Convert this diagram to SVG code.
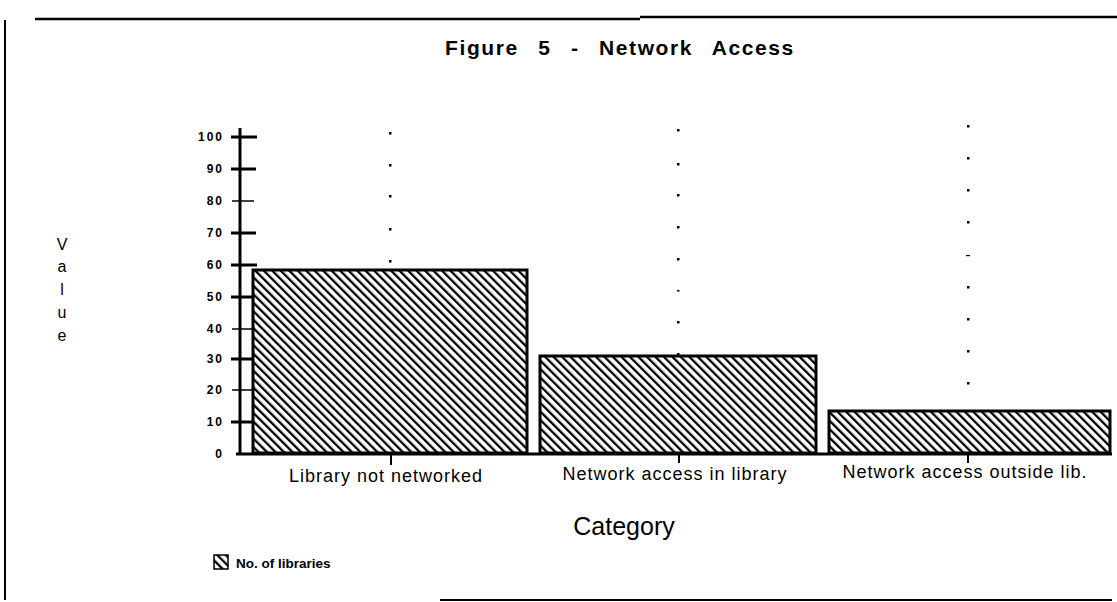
<svg xmlns="http://www.w3.org/2000/svg" width="1117" height="602" viewBox="0 0 1117 602">
<defs>
<pattern id="hatch" patternUnits="userSpaceOnUse" width="6" height="6" patternTransform="rotate(-45)">
<rect width="6" height="6" fill="#fff"/>
<rect x="0" y="0" width="2.3" height="6" fill="#000"/>
</pattern>
</defs>
<style>
.t{font-family:"Liberation Sans",Arial,sans-serif;fill:#000}
.tick{font-size:12px;font-weight:bold;text-anchor:end;letter-spacing:2px}
.cat{font-size:18px;text-anchor:middle;letter-spacing:1px}
.bar{fill:url(#hatch);stroke:#000;stroke-width:3}
.ax{stroke:#000;fill:none}
.dot{fill:#000}
</style>
<rect width="1117" height="602" fill="#fff"/>
<g id="frame" class="ax">
<path d="M35 19 H640 M640 17 H1117" stroke-width="2.5"/>
<path d="M5 20 V600" stroke-width="2"/>
<path d="M440 600 H1112" stroke-width="2"/>
</g>
<text id="title" class="t" x="620" y="55" font-size="21" font-weight="bold" text-anchor="middle" letter-spacing="1.6" word-spacing="12">Figure 5 - Network Access</text>
<g id="ylabel" class="t" font-size="16" text-anchor="middle">
<text x="62" y="250">V</text>
<text x="62" y="272">a</text>
<text x="62" y="295">l</text>
<text x="62" y="318">u</text>
<text x="62" y="341">e</text>
</g>
<g id="yaxis">
<path class="ax" d="M240 128 V455" stroke-width="3"/>
<path class="ax" stroke-width="3" d="M231 137 H257 M231 169 H256 M231 233 H256 M231 265 H257 M231 297 H256 M231 359 H256 M231 422 H256"/>
<path class="ax" stroke-width="1.5" d="M232 201 H254 M232 329 H252 M232 390 H252"/>
<g class="t tick">
<text x="224" y="141">100</text>
<text x="224" y="173">90</text>
<text x="224" y="205">80</text>
<text x="224" y="237">70</text>
<text x="224" y="269">60</text>
<text x="224" y="301">50</text>
<text x="224" y="333">40</text>
<text x="224" y="363">30</text>
<text x="224" y="394">20</text>
<text x="224" y="426">10</text>
<text x="224" y="458">0</text>
</g>
</g>
<g id="dots" class="dot">
<rect x="389" y="132" width="2.5" height="2.5"/><rect x="389" y="164" width="2.5" height="2.5"/><rect x="389" y="195" width="2.5" height="2.5"/><rect x="389" y="228" width="2.5" height="2.5"/><rect x="389" y="260" width="2.5" height="2.5"/>
<rect x="677" y="129" width="2.5" height="2.5"/><rect x="677" y="163" width="2.5" height="2.5"/><rect x="677" y="194" width="2.5" height="2.5"/><rect x="677" y="226" width="2.5" height="2.5"/><rect x="677" y="258" width="2.5" height="2.5"/><rect x="677" y="290" width="2.5" height="1.5"/><rect x="677" y="321" width="2.5" height="2.5"/><rect x="677" y="353" width="2.5" height="2.5"/>
<rect x="967" y="125" width="2.5" height="2.5"/><rect x="967" y="157" width="2.5" height="2.5"/><rect x="967" y="189" width="2.5" height="2.5"/><rect x="967" y="221" width="2.5" height="2.5"/><rect x="966" y="255" width="4" height="1.2"/><rect x="967" y="286" width="2.5" height="2.5"/><rect x="967" y="318" width="2.5" height="2.5"/><rect x="967" y="350" width="2.5" height="2.5"/><rect x="967" y="382" width="2.5" height="2.5"/>
</g>
<g id="bar1"><rect class="bar" x="253" y="270" width="274" height="183"/></g>
<g id="bar2"><rect class="bar" x="540" y="356" width="276" height="97"/></g>
<g id="bar3"><rect class="bar" x="829" y="411" width="281" height="42"/></g>
<g id="baseline">
<path class="ax" d="M236 454 H1112" stroke-width="3"/>
<path class="ax" stroke-width="2" d="M391 454 V465 M679 454 V463 M968 454 V463"/>
</g>
<g id="categories" class="t cat">
<text x="386" y="482">Library not networked</text>
<text x="675" y="480">Network access in library</text>
<text x="965" y="478">Network access outside lib.</text>
</g>
<text id="xlabel" class="t" x="624" y="535" font-size="25" text-anchor="middle">Category</text>
<g id="legend">
<rect x="214" y="555" width="14" height="14" fill="url(#hatch)" stroke="#000" stroke-width="1.5"/>
<text class="t" x="236" y="568" font-size="13.5" font-weight="bold">No. of libraries</text>
</g>
</svg>
